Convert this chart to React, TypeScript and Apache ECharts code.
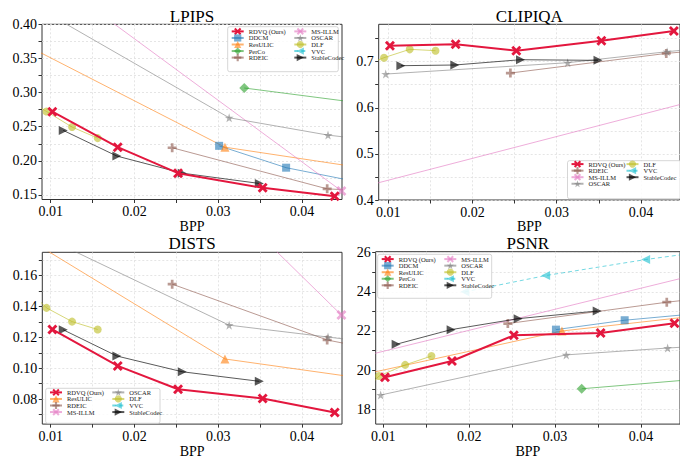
import React, { useEffect, useRef } from 'react';
import * as echarts from 'echarts';

// ---------------- data ----------------
const rdvqBpp = [0.0102, 0.018, 0.0252, 0.0353, 0.0439];
const rdvqLpips = [0.272, 0.22, 0.182, 0.1605, 0.148];
const rdvqClipiqa = [0.7347, 0.7376, 0.7239, 0.7456, 0.7665];
const rdvqDists = [0.1251, 0.1015, 0.0864, 0.0804, 0.0713];
const rdvqPsnr = [19.64, 20.47, 21.78, 21.9, 22.4];

const ddcmBpp = [0.0301, 0.0381, 0.05];
const ddcmLpips = [0.222, 0.19, 0.161];
const ddcmPsnr = [22.07, 22.55, 23.03];

const resulicBpp = [0.006, 0.0308, 0.06];
const resulicLpips = [0.376, 0.22, 0.166];
const resulicDists = [0.188, 0.106, 0.0837];
const resulicPsnr = [19.62, 22.0, 23.44];

const percoBpp = [0.0331, 0.06];
const percoLpips = [0.3067, 0.264];
const percoPsnr = [19.05, 20.03];

const rdeicBpp = [0.0245, 0.043, 0.06];
const rdeicLpips = [0.2192, 0.159, 0.148];
const rdeicClipiqa = [0.6754, 0.718, 0.745];
const rdeicDists = [0.1545, 0.1183, 0.1];
const rdeicPsnr = [22.38, 23.47, 24.3];

const msillmBpp = [0.007, 0.0447];
const msillmLpips = [0.496, 0.156];
const msillmClipiqa = [0.4287, 0.6074];
const msillmDists = [0.335, 0.1345];
const msillmPsnr = [20.64, 24.69];

const oscarBpp = [0.0097, 0.0313, 0.0431, 0.06];
const oscarLpips = [0.4155, 0.2631, 0.2377, 0.214];
const oscarClipiqa = [0.6732, 0.6978, 0.7217, 0.752];
const oscarDists = [0.1839, 0.1279, 0.1202, 0.109];
const oscarPsnr = [18.73, 20.78, 21.13, 21.57];

const dlfBpp = [0.007, 0.0095, 0.01255, 0.01561];
const dlfLpips = [0.29, 0.2724, 0.2495, 0.2333];
const dlfClipiqa = [0.691, 0.7087, 0.7268, 0.7239];
const dlfDists = [0.1527, 0.1391, 0.1302, 0.1251];
const dlfPsnr = [18.5, 19.7, 20.27, 20.72];

const vvcBpp = [0.0195, 0.0289, 0.04054, 0.055];
const vvcPsnr = [24.0, 24.83, 25.65, 26.5];

const stableBpp = [0.0115, 0.0179, 0.0257, 0.0349];
const stableLpips = [0.2446, 0.207, 0.182, 0.1669];
const stableClipiqa = [0.6913, 0.6928, 0.7043, 0.7029];
const stableDists = [0.1249, 0.1079, 0.0977, 0.0915];
const stablePsnr = [21.32, 22.07, 22.63, 23.02];

// tick values
const xTicks = [0.01, 0.02, 0.03, 0.04];
const xMinor = [0.015, 0.025, 0.035];
const lpipsTicks = [0.15, 0.2, 0.25, 0.3, 0.35, 0.4];
const lpipsMinor = [0.175, 0.225, 0.275, 0.325, 0.375];
const clipiqaTicks = [0.4, 0.5, 0.6, 0.7];
const clipiqaMinor = [0.45, 0.55, 0.65, 0.75];
const distsTicks = [0.08, 0.1, 0.12, 0.14, 0.16];
const distsMinor = [0.07, 0.09, 0.11, 0.13, 0.15, 0.17];
const psnrTicks = [18, 20, 22, 24, 26];
const psnrMinor = [19, 21, 23, 25];

// ---------------- styles ----------------
const SERIF = '"Liberation Serif", "Times New Roman", serif';
const symX = 'path://M0,2L2,0L5,3L8,0L10,2L7,5L10,8L8,10L5,7L2,10L0,8L3,5Z';
const symPlus = 'path://M3.5,0L6.5,0L6.5,3.5L10,3.5L10,6.5L6.5,6.5L6.5,10L3.5,10L3.5,6.5L0,6.5L0,3.5L3.5,3.5Z';
const symStar = 'path://M5,0L6.117,3.463L9.755,3.455L6.807,5.587L7.939,9.045L5,6.9L2.061,9.045L3.193,5.587L0.245,3.455L3.883,3.463Z';
const symRight = 'path://M0,0L10,5L0,10Z';
const symLeft = 'path://M10,0L0,5L10,10Z';

const styles: Record<string, any> = {
  'RDVQ (Ours)': { color: '#e3173e', symbol: symX, size: 10, width: 2, opacity: 1, z: 6 },
  DDCM: { color: '#1f77b4', symbol: 'rect', size: 8, width: 1, opacity: 0.6, z: 3 },
  ResULIC: { color: '#ff7f0e', symbol: 'triangle', size: 9, width: 1, opacity: 0.6, z: 3 },
  PerCo: { color: '#2ca02c', symbol: 'diamond', size: 10, width: 1, opacity: 0.6, z: 3 },
  RDEIC: { color: '#8c564b', symbol: symPlus, size: 9, width: 1, opacity: 0.6, z: 3 },
  'MS-ILLM': { color: '#e377c2', symbol: symX, size: 10, width: 1, opacity: 0.6, z: 3 },
  OSCAR: { color: '#7f7f7f', symbol: symStar, size: 9, width: 1, opacity: 0.6, z: 3 },
  DLF: { color: '#bcbd22', symbol: 'circle', size: 8, width: 1, opacity: 0.6, z: 3 },
  VVC: { color: '#17becf', symbol: symLeft, size: 9, width: 1, opacity: 0.6, z: 3, dashed: true },
  StableCodec: { color: '#000000', symbol: symRight, size: 9, width: 1, opacity: 0.65, z: 4 },
};

const pairs = (xs: number[], ys: number[]) => ys.map((y, i) => [xs[i], y]);

function line(name: string, gridIndex: number, data: number[][]) {
  const s = styles[name];
  return {
    type: 'line',
    name,
    xAxisIndex: gridIndex,
    yAxisIndex: gridIndex,
    data,
    clip: true,
    symbol: s.symbol,
    symbolSize: s.size,
    showAllSymbol: true,
    z: s.z,
    itemStyle: { color: s.color, opacity: s.opacity, borderWidth: 0 },
    lineStyle: { color: s.color, width: s.width, opacity: s.opacity, type: s.dashed ? [4, 3] : 'solid' },
    emphasis: { disabled: true },
  };
}

const panels = [
  {
    title: 'LPIPS', left: 42, top: 24.3, width: 300, height: 175.2,
    xMin: 0.008962, xMax: 0.04477, yMin: 0.1434, yMax: 0.4,
    yTicks: lpipsTicks, yMinor: lpipsMinor, yDec: 2, nameGap: 16, titleTop: 7.5,
    legend: [['RDVQ (Ours)', 'DDCM', 'ResULIC', 'PerCo', 'RDEIC'], ['MS-ILLM', 'OSCAR', 'DLF', 'VVC', 'StableCodec']],
    legendPos: [[230.7, 27.8], [293.3, 27.8]], box: [227.7, 26.7, 110.6, 45],
    series: [
      ['RDVQ (Ours)', pairs(rdvqBpp, rdvqLpips)], ['DDCM', pairs(ddcmBpp, ddcmLpips)],
      ['ResULIC', pairs(resulicBpp, resulicLpips)], ['PerCo', pairs(percoBpp, percoLpips)],
      ['RDEIC', pairs(rdeicBpp, rdeicLpips)], ['MS-ILLM', pairs(msillmBpp, msillmLpips)],
      ['OSCAR', pairs(oscarBpp, oscarLpips)], ['DLF', pairs(dlfBpp, dlfLpips)],
      ['VVC', []], ['StableCodec', pairs(stableBpp, stableLpips)],
    ],
  },
  {
    title: 'CLIPIQA', left: 378.7, top: 24.3, width: 303.3, height: 175.7,
    xMin: 0.008868, xMax: 0.04463, yMin: 0.4, yMax: 0.7811,
    yTicks: clipiqaTicks, yMinor: clipiqaMinor, yDec: 1, nameGap: 16, titleTop: 7.5,
    legend: [['RDVQ (Ours)', 'RDEIC', 'MS-ILLM', 'OSCAR'], ['DLF', 'VVC', 'StableCodec']],
    legendPos: [[570.5, 160.5], [625.5, 160.5]], box: [567.5, 160.7, 120, 38],
    series: [
      ['RDVQ (Ours)', pairs(rdvqBpp, rdvqClipiqa)], ['RDEIC', pairs(rdeicBpp, rdeicClipiqa)],
      ['MS-ILLM', pairs(msillmBpp, msillmClipiqa)], ['OSCAR', pairs(oscarBpp, oscarClipiqa)],
      ['DLF', pairs(dlfBpp, dlfClipiqa)], ['VVC', []], ['StableCodec', pairs(stableBpp, stableClipiqa)],
    ],
  },
  {
    title: 'DISTS', left: 42.3, top: 252.3, width: 299.7, height: 174.4,
    xMin: 0.008998, xMax: 0.04477, yMin: 0.06378, yMax: 0.17513,
    yTicks: distsTicks, yMinor: distsMinor, yDec: 2, nameGap: 18, titleTop: 235,
    legend: [['RDVQ (Ours)', 'ResULIC', 'RDEIC', 'MS-ILLM'], ['OSCAR', 'DLF', 'VVC', 'StableCodec']],
    legendPos: [[49, 388.8], [111.3, 388.8]], box: [45.7, 388.3, 114.3, 35],
    series: [
      ['RDVQ (Ours)', pairs(rdvqBpp, rdvqDists)], ['ResULIC', pairs(resulicBpp, resulicDists)],
      ['RDEIC', pairs(rdeicBpp, rdeicDists)], ['MS-ILLM', pairs(msillmBpp, msillmDists)],
      ['OSCAR', pairs(oscarBpp, oscarDists)], ['DLF', pairs(dlfBpp, dlfDists)],
      ['VVC', []], ['StableCodec', pairs(stableBpp, stableDists)],
    ],
  },
  {
    title: 'PSNR', left: 375.7, top: 251.7, width: 306.3, height: 175,
    xMin: 0.009121, xMax: 0.04454, yMin: 17.245, yMax: 26.05,
    yTicks: psnrTicks, yMinor: psnrMinor, yDec: 0, nameGap: 18, titleTop: 235,
    legend: [['RDVQ (Ours)', 'DDCM', 'ResULIC', 'PerCo', 'RDEIC'], ['MS-ILLM', 'OSCAR', 'DLF', 'VVC', 'StableCodec']],
    legendPos: [[380.7, 255.5], [443.3, 255.5]], box: [377.7, 254.3, 114, 44],
    series: [
      ['RDVQ (Ours)', pairs(rdvqBpp, rdvqPsnr)], ['DDCM', pairs(ddcmBpp, ddcmPsnr)],
      ['ResULIC', pairs(resulicBpp, resulicPsnr)], ['PerCo', pairs(percoBpp, percoPsnr)],
      ['RDEIC', pairs(rdeicBpp, rdeicPsnr)], ['MS-ILLM', pairs(msillmBpp, msillmPsnr)],
      ['OSCAR', pairs(oscarBpp, oscarPsnr)], ['DLF', pairs(dlfBpp, dlfPsnr)],
      ['VVC', pairs(vvcBpp, vvcPsnr)], ['StableCodec', pairs(stableBpp, stablePsnr)],
    ],
  },
];

const sortNum = (a: number[]) => [...a].sort((p, q) => p - q);
const gridLine = { show: true, lineStyle: { color: '#dedede', width: 0.8, type: [2, 2] } };

function buildOption() {
  const grid: any[] = [];
  const xAxis: any[] = [];
  const yAxis: any[] = [];
  const series: any[] = [];
  const title: any[] = [];
  const legend: any[] = [];
  const graphic: any[] = [];
  panels.forEach((p, gi) => {
    grid.push({
      left: p.left, top: p.top, width: p.width, height: p.height,
      show: true, borderColor: '#333', borderWidth: 1, backgroundColor: 'transparent',
      containLabel: false,
    });
    xAxis.push({
      type: 'value', gridIndex: gi, min: p.xMin, max: p.xMax,
      name: 'BPP', nameLocation: 'middle', nameGap: p.nameGap,
      nameTextStyle: { fontFamily: SERIF, fontSize: 14, color: '#000' },
      axisLine: { show: false },
      axisTick: { show: true, length: 3.5, lineStyle: { color: '#333' }, customValues: sortNum([...xTicks, ...xMinor]) },
      axisLabel: {
        customValues: xTicks, margin: 5, fontFamily: SERIF, fontSize: 14, color: '#000',
        formatter: (v: number) => v.toFixed(2),
      },
      splitLine: gridLine,
    });
    const yt = [...p.yTicks, ...p.yMinor].filter((v) => v >= p.yMin && v <= p.yMax);
    yAxis.push({
      type: 'value', gridIndex: gi, min: p.yMin, max: p.yMax,
      axisLine: { show: false },
      axisTick: { show: true, length: 3.5, lineStyle: { color: '#333' }, customValues: sortNum(yt) },
      axisLabel: {
        customValues: p.yTicks, margin: 5, fontFamily: SERIF, fontSize: 14, color: '#000',
        formatter: (v: number) => v.toFixed(p.yDec),
      },
      splitLine: gridLine,
    });
    title.push({
      text: p.title, left: p.left + p.width / 2 - (gi % 2 === 1 ? 1 : 0), top: p.titleTop, textAlign: 'center', padding: 0,
      textStyle: { fontFamily: SERIF, fontSize: 17, fontWeight: 'normal', color: '#000' },
    });
    p.series.forEach(([name, data]: any) => series.push(line(name, gi, data)));
    p.legend.forEach((names, ci) => {
      legend.push({
        orient: 'vertical', left: p.legendPos[ci][0], top: p.legendPos[ci][1],
        padding: 0, itemWidth: 12, itemHeight: 9, itemGap: -0.65, selectedMode: false, z: 10,
        data: names,
        textStyle: { fontFamily: SERIF, fontSize: 6.5, color: '#222', lineHeight: 7 },
      });
    });
    const b = p.box;
    graphic.push({
      type: 'rect', z: 8, silent: true,
      shape: { x: b[0], y: b[1], width: b[2], height: b[3], r: 2 },
      style: { fill: 'rgba(255,255,255,0.85)', stroke: '#cccccc', lineWidth: 0.8 },
    });
  });
  return { animation: false, backgroundColor: '#fff', grid, xAxis, yAxis, series, title, legend, graphic };
}

export default function App() {
  const ref = useRef<HTMLDivElement>(null);
  useEffect(() => {
    if (!ref.current) return;
    const chart = echarts.init(ref.current, undefined, { renderer: 'svg' });
    chart.setOption(buildOption() as any);
    return () => chart.dispose();
  }, []);
  return <div ref={ref} style={{ position: 'fixed', left: 0, top: 0, width: 680, height: 459 }} />;
}
